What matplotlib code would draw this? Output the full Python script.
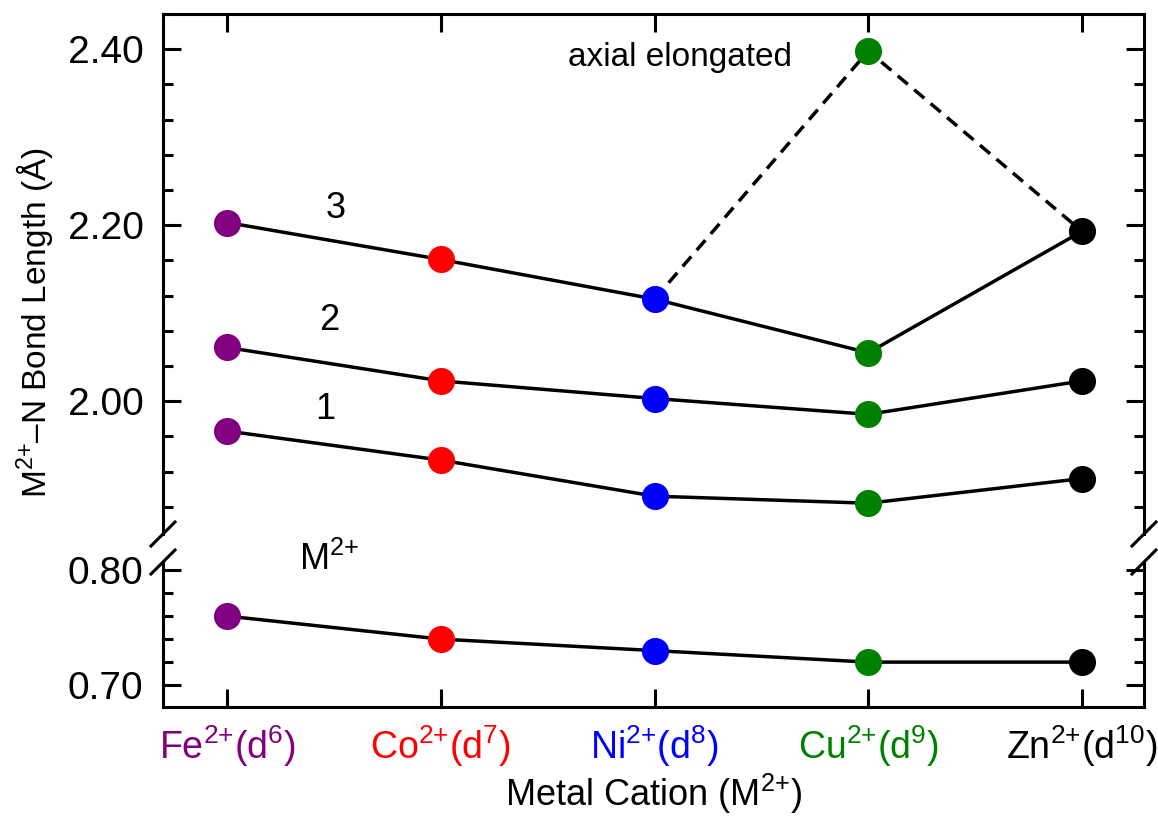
import numpy as np
import matplotlib
matplotlib.use("Agg")
import matplotlib.pyplot as plt
from matplotlib.ticker import MultipleLocator
from matplotlib.lines import Line2D

plt.rcParams['font.family'] = ['Liberation Sans', 'DejaVu Sans']
plt.rcParams['mathtext.fontset'] = 'custom'
plt.rcParams['mathtext.rm'] = 'Liberation Sans'
plt.rcParams['mathtext.it'] = 'Liberation Sans'
plt.rcParams['mathtext.default'] = 'rm'

# data
cations = [r'Fe$^{2{+}}$(d$^{6}$)', r'Co$^{2{+}}$(d$^{7}$)', r'Ni$^{2{+}}$(d$^{8}$)',
           r'Cu$^{2{+}}$(d$^{9}$)', r'Zn$^{2{+}}$(d$^{10}$)']
colors = ['#800080', '#ff0000', '#0000ff', '#008000', '#000000']
bond1 = [1.966, 1.933, 1.892, 1.884, 1.912]
bond2 = [2.061, 2.023, 2.003, 1.985, 2.023]
bond3 = [2.203, 2.161, 2.116, 2.055, 2.193]
axial_x = [2, 3, 4]
axial_y = [2.116, 2.398, 2.193]
radius = [0.76, 0.74, 0.73, 0.72, 0.72]

x = np.arange(len(cations))

fig = plt.figure(figsize=(11.58, 8.16), dpi=100)
left, width = 163 / 1158, 981 / 1158
ax_top = fig.add_axes([left, 1 - 534 / 816, width, (534 - 14) / 816])
ax_bot = fig.add_axes([left, 1 - 707 / 816, width, (707 - 562) / 816])

lw = 2.2
dlw = 2.5
ms = 19.5

for s in [bond1, bond2, bond3]:
    ax_top.plot(x, s, color='black', lw=dlw, zorder=2)
ax_top.plot(axial_x, axial_y, color='black', lw=dlw, ls=(0, (3.8, 2.4)), zorder=2)
for s in [bond1, bond2, bond3]:
    for xi, yi, c in zip(x, s, colors):
        ax_top.plot(xi, yi, 'o', color=c, ms=ms, mew=0, zorder=3)
ax_top.plot(3, axial_y[1], 'o', color=colors[3], ms=ms, mew=0, zorder=3)

ax_bot.plot(x, radius, color='black', lw=dlw, zorder=2)
for xi, yi, c in zip(x, radius, colors):
    ax_bot.plot(xi, yi, 'o', color=c, ms=ms, mew=0, zorder=3)

xlim = (-0.3, 4.29)
ax_top.set_xlim(*xlim)
ax_bot.set_xlim(*xlim)
ax_top.set_ylim(1.849, 2.44)
ax_bot.set_ylim(0.681, 0.807)

fs = 26
ax_top.yaxis.set_minor_locator(MultipleLocator(0.04))
ax_bot.yaxis.set_minor_locator(MultipleLocator(0.02))
ax_top.set_yticks([2.0, 2.2, 2.4])
ax_top.set_yticklabels(['2.00', '2.20', '2.40'])
ax_bot.set_yticks([0.7, 0.8])
ax_bot.set_yticklabels(['0.70', '0.80'])

for ax in (ax_top, ax_bot):
    ax.set_xticks(x)
    for sp in ax.spines.values():
        sp.set_linewidth(lw)
    ax.tick_params(axis='both', which='major', direction='in', length=13, width=lw,
                   left=True, right=True)
    ax.tick_params(axis='y', which='major', labelsize=28, pad=14)
    ax.tick_params(axis='y', which='minor', direction='in', length=7, width=lw,
                   left=True, right=True)

ax_top.spines['bottom'].set_visible(False)
ax_bot.spines['top'].set_visible(False)
ax_top.tick_params(axis='x', which='major', top=True, bottom=False, labelbottom=False)
ax_bot.tick_params(axis='x', which='major', top=False, bottom=True, pad=12)
ax_bot.set_xticklabels(cations, fontsize=27)
for lab, c in zip(ax_bot.get_xticklabels(), colors):
    lab.set_color(c)
ax_bot.set_xlabel(r'Metal Cation (M$^{2{+}}$)', fontsize=fs, labelpad=2)

fig.text(35 / 1158, 1 - 323 / 816, 'M$^{2{+}}$–N Bond Length (Å)', fontsize=24,
         rotation=90, ha='center', va='center')

# labels
ax_top.text(0.51, 2.219, '3', fontsize=fs, ha='center', va='center')
ax_top.text(0.48, 2.092, '2', fontsize=fs, ha='center', va='center')
ax_top.text(0.46, 1.990, '1', fontsize=fs, ha='center', va='center')
ax_top.text(2.12, 2.39, 'axial elongated', fontsize=24, ha='center', va='center')
ax_bot.text(0.475, 0.80, 'M$^{2{+}}$', fontsize=fs, ha='center', va='baseline', clip_on=False)

# axis break marks
d = 12
for xp in (163, 1144):
    for yp in (534, 562):
        fig.add_artist(Line2D([(xp - d) / 1158, (xp + d) / 1158],
                              [1 - (yp + d) / 816, 1 - (yp - d) / 816],
                              color='black', lw=lw, transform=fig.transFigure))

fig.savefig('out.png', dpi=100)
